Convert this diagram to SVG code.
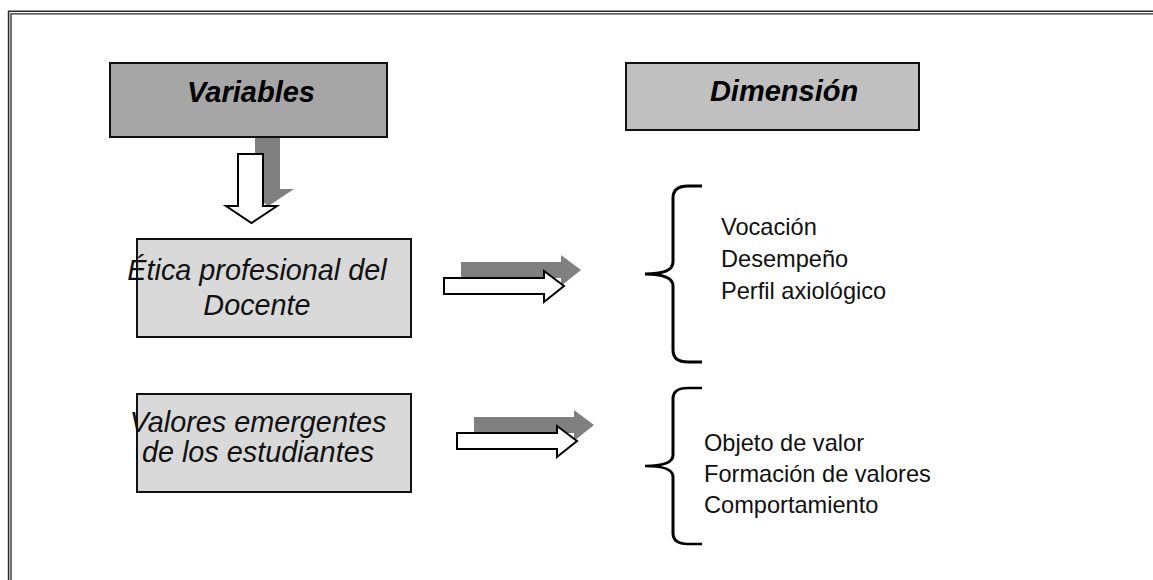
<svg xmlns="http://www.w3.org/2000/svg" width="1153" height="580" viewBox="0 0 1153 580">
<defs>
<style>
.frame{stroke:#2a2a2a;fill:none}
.box{stroke:#111;stroke-width:2}
.hdr{font-family:"Liberation Sans",Arial,sans-serif;font-size:29px;font-weight:bold;font-style:italic;fill:#000;text-anchor:middle}
.var{font-family:"Liberation Sans",Arial,sans-serif;font-size:28.8px;font-style:italic;fill:#111;text-anchor:middle}
.dim{font-family:"Liberation Sans",Arial,sans-serif;font-size:23.6px;fill:#111}
.shadow{fill:#808080}
.arrow{fill:#fff;stroke:#000;stroke-width:2;stroke-linejoin:miter}
.brace{fill:none;stroke:#000;stroke-width:3}
</style>
<path id="downArrow" d="M238,154 H263 V206 H277 L251.5,223 L226,206 H238 Z"/>
<path id="rightArrow" d="M0,0 H100 V-7 L120,8 L100,24 V16 H0 Z"/>
<path id="brace" d="M702,0 H688 Q673,0 673,12 V76 Q673,88 645,88 Q673,88 673,100 V164 Q673,176 688,176 H702"/>
</defs>
<rect width="1153" height="580" fill="#fff"/>
<g id="frame">
<path class="frame" stroke-width="1.6" d="M8.6,580 V11.2 H1153"/>
<path class="frame" stroke-width="1.3" d="M11,580 V13.8 H1153"/>
</g>
<g id="connectors">
<use href="#downArrow" class="shadow" transform="translate(17,-17)"/>
<use href="#downArrow" class="arrow"/>
<use href="#rightArrow" class="shadow" transform="translate(461,262)"/>
<use href="#rightArrow" class="arrow" transform="translate(444,278)"/>
<use href="#rightArrow" class="shadow" transform="translate(474,417)"/>
<use href="#rightArrow" class="arrow" transform="translate(457,433)"/>
</g>
<g id="variables">
<rect class="box" x="110" y="63" width="277" height="74" fill="#a6a6a6"/>
<text class="hdr" x="251" y="102">Variables</text>
</g>
<g id="dimension">
<rect class="box" x="626" y="63" width="293" height="67" fill="#c0c0c0"/>
<text class="hdr" x="784" y="101">Dimensión</text>
</g>
<g id="etica">
<rect class="box" x="137" y="239" width="274" height="98" fill="#d9d9d9"/>
<text class="var" x="257" y="280">Ética profesional del</text>
<text class="var" x="257" y="315">Docente</text>
</g>
<g id="valores">
<rect class="box" x="137" y="394" width="274" height="98" fill="#d9d9d9"/>
<text class="var" x="258" y="432">Valores emergentes</text>
<text class="var" x="258" y="462">de los estudiantes</text>
</g>
<g id="dim1">
<use href="#brace" class="brace" transform="translate(0,186)"/>
<text class="dim" x="721" y="235">Vocación</text>
<text class="dim" x="721" y="267">Desempeño</text>
<text class="dim" x="721" y="299">Perfil axiológico</text>
</g>
<g id="dim2">
<use href="#brace" class="brace" transform="translate(0,388) scale(1,0.8864)"/>
<text class="dim" x="704" y="451">Objeto de valor</text>
<text class="dim" x="704" y="482">Formación de valores</text>
<text class="dim" x="704" y="513">Comportamiento</text>
</g>
</svg>
